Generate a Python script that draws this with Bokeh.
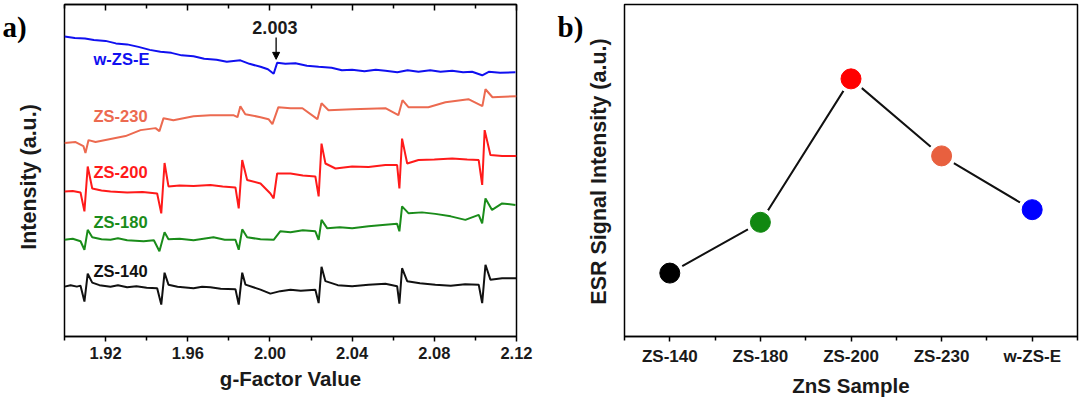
import math
from bokeh.plotting import figure
from bokeh.models import (Range1d, LinearAxis, FixedTicker, Arrow, NormalHead,
                          NumeralTickFormatter, CustomLabelingPolicy)
from bokeh.layouts import row
from bokeh.embed import file_html
from bokeh.resources import INLINE
from bokeh.core.properties import value

# ---------------- panel a) : ESR spectra (g-factor vs intensity, offset traces) -------------
g_140 = [1.900, 1.903, 1.906, 1.9078, 1.9097, 1.9113, 1.9135, 1.917, 1.9224, 1.926, 1.9305, 1.935,
         1.940, 1.9451, 1.9471, 1.9487, 1.9506, 1.955, 1.9628, 1.967, 1.971, 1.976, 1.9832, 1.9848,
         1.9865, 1.9881, 1.9954, 2.0002, 2.005, 2.010, 2.015, 2.0221, 2.0237, 2.0251, 2.027, 2.033,
         2.040, 2.048, 2.0562, 2.0619, 2.063, 2.0643, 2.0668, 2.073, 2.0805, 2.088, 2.095, 2.1016,
         2.1033, 2.1049, 2.1073, 2.113, 2.120]
i_140 = [53, 54.5, 53, 54, 38, 66, 57, 54.5, 53, 54.5, 52.5, 53.5,
         52, 51.5, 35, 67, 55, 53, 51.5, 53, 52.5, 51, 50.5, 35,
         67, 55, 50, 46, 48.5, 50, 49, 50, 36.5, 73, 58.5, 54.5,
         53.5, 55, 56, 53.5, 36, 71.5, 58.5, 56.5, 55, 54, 55.5, 55,
         36.5, 75, 60, 61.5, 61.5]

g_180 = [1.900, 1.904, 1.9078, 1.9097, 1.9113, 1.9135, 1.918, 1.9224, 1.926, 1.9305, 1.9385, 1.9435,
         1.9462, 1.9487, 1.9506, 1.956, 1.9628, 1.9725, 1.978, 1.9832, 1.9848, 1.9865, 1.9889, 1.9954,
         2.0018, 2.005, 2.010, 2.016, 2.0221, 2.0237, 2.0251, 2.0279, 2.034, 2.040, 2.048, 2.0562,
         2.0619, 2.063, 2.0643, 2.0675, 2.074, 2.0805, 2.088, 2.0951, 2.1016, 2.1033, 2.1049, 2.1081,
         2.113, 2.1195]
i_180 = [100, 101, 98.5, 90, 110, 102.5, 100.5, 100, 101.5, 99.5, 98.5, 99.5,
         88.5, 107.5, 100.5, 101, 99.5, 102.5, 100, 100, 90, 110.5, 102.5, 100.5,
         100, 108.5, 107.5, 109.5, 108.5, 100, 120, 111.5, 112.5, 111.5, 113.5, 115,
         116, 108.5, 133.5, 126.5, 127.5, 126, 123.5, 120, 125, 116.5, 141.5, 130,
         136.5, 135]

g_200 = [1.900, 1.904, 1.9078, 1.9097, 1.9113, 1.9135, 1.918, 1.9224, 1.9305, 1.938, 1.9451, 1.9471,
         1.9487, 1.9506, 1.956, 1.9628, 1.971, 1.977, 1.9832, 1.9848, 1.9865, 1.9889, 1.9954, 2.0002,
         2.0018, 2.0035, 2.010, 2.016, 2.0221, 2.0237, 2.0251, 2.027, 2.0319, 2.040, 2.048, 2.0562,
         2.0619, 2.063, 2.0643, 2.0668, 2.0723, 2.080, 2.0887, 2.096, 2.1016, 2.1033, 2.1045, 2.1073,
         2.113, 2.120]
i_200 = [148.5, 149, 147.5, 128.5, 173.5, 151.5, 149.5, 148.5, 147.5, 148, 146.5, 126.5,
         177, 153.5, 154.5, 154, 155, 153.5, 152.5, 131.5, 180, 160, 156.5, 146.5,
         141.5, 166.5, 166.5, 164.5, 163.5, 143.5, 196.5, 176.5, 171.5, 173.5, 173, 175,
         175, 151.5, 201.5, 176.5, 180, 180.5, 181.5, 180.5, 180, 155, 210, 185,
         184, 184]

g_230 = [1.900, 1.9054, 1.9092, 1.9102, 1.9117, 1.9151, 1.9224, 1.9297, 1.937, 1.9443, 1.9462, 1.9482,
         1.953, 1.9628, 1.971, 1.9822, 1.9842, 1.9856, 1.988, 1.9954, 1.9993, 2.0012, 2.0041, 2.010,
         2.0158, 2.0231, 2.0251, 2.0285, 2.0401, 2.0562, 2.0625, 2.0645, 2.0674, 2.0771, 2.0854, 2.0966,
         2.1034, 2.1049, 2.1083, 2.120]
i_230 = [197, 198, 194, 187, 200, 198, 201, 204, 210, 212, 209, 222,
         220, 224, 225, 225, 223, 234, 226, 223, 221, 216, 233, 232,
         232, 221, 237, 230, 231, 232, 225, 240, 233, 233, 238, 241,
         234, 251, 243, 244]

g_wzse = [1.900, 1.905, 1.910, 1.9143, 1.920, 1.925, 1.9305, 1.936, 1.9415, 1.9467, 1.952, 1.957,
          1.9628, 1.968, 1.974, 1.979, 1.9856, 1.990, 1.9954, 1.999, 2.0018, 2.0035, 2.0075, 2.0124,
          2.018, 2.0237, 2.030, 2.035, 2.040, 2.046, 2.0515, 2.0562, 2.062, 2.067, 2.0723, 2.078,
          2.083, 2.0887, 2.094, 2.0984, 2.1033, 2.1065, 2.112, 2.1195]
i_wzse = [304, 302.5, 302, 300.5, 299.5, 297, 296, 293.5, 290.5, 288.5, 287.5, 285,
          284, 281.5, 280.5, 278.5, 280, 276.5, 273.5, 271, 266.5, 277.5, 276.5, 277,
          274.5, 273.5, 272.5, 270, 270.5, 269, 270.5, 269.5, 268, 270, 268.5, 270,
          268.5, 269.5, 268, 268.5, 265, 268.5, 267.5, 268]

trace_names = ["ZS-140", "ZS-180", "ZS-200", "ZS-230", "w-ZS-E"]
trace_g = [g_140, g_180, g_200, g_230, g_wzse]
trace_i = [i_140, i_180, i_200, i_230, i_wzse]
trace_colors = ["#111111", "#1a8c1a", "#ff1a1a", "#ec6a50", "#1010f0"]
trace_label_y = [69, 118, 167.5, 224, 281]

g_ticks = [1.92, 1.96, 2.00, 2.04, 2.08, 2.12]
g_minor = [1.90, 1.94, 1.98, 2.02, 2.06, 2.10]
marked_g = 2.003

# ---------------- panel b) : ESR signal intensity per sample -------------
samples = ["ZS-140", "ZS-180", "ZS-200", "ZS-230", "w-ZS-E"]
esr_signal = [1.91, 3.44, 7.76, 5.44, 3.82]
sample_colors = ["#000000", "#118811", "#ff0000", "#e8603f", "#0000ff"]

FONT = "Liberation Sans"
TXT = "#1a1a1a"
H = 399
FT, FB = 4, 337  # frame top / bottom (canvas px)


def no_labels():
    return CustomLabelingPolicy(code="return new indices.constructor(indices.size, 0)")


def side_strip(width, panel_tag, tag_x, title, title_x, title_y):
    """Strip left of a panel: panel tag and rotated y-axis title (y data = canvas px from top)."""
    s = figure(width=width, height=H, x_range=Range1d(0, width), y_range=Range1d(FB, FT),
               output_backend="svg", toolbar_location=None, title=None,
               x_axis_location=None, y_axis_location=None,
               min_border_left=0, min_border_right=0, min_border_top=FT, min_border_bottom=H - FB)
    s.grid.visible = False
    s.outline_line_color = None
    s.background_fill_color = "white"
    s.border_fill_color = "white"
    s.text(x=[tag_x], y=[26.5], text=[panel_tag], text_color="black",
           text_font=value("Liberation Serif"), text_font_style="bold",
           text_font_size=value("29px"), text_align="left", text_baseline="alphabetic")
    s.text(x=[title_x], y=[title_y], text=[title], text_color=TXT, angle=math.pi / 2,
           text_font=value(FONT), text_font_style="bold",
           text_font_size=value("21.5px"), text_align="center", text_baseline="middle")
    return s


def style_common(p):
    p.grid.visible = False
    p.outline_line_color = "black"
    p.outline_line_width = 1.5
    p.background_fill_color = "white"
    p.border_fill_color = "white"


def style_xaxis(ax, label, tick_size):
    ax.axis_line_width = 1.5
    ax.major_tick_line_width = 1.5
    ax.minor_tick_line_width = 1.5
    ax.major_tick_out = 5
    ax.major_tick_in = 0
    ax.minor_tick_out = 4
    ax.minor_tick_in = 0
    ax.major_label_standoff = 5
    ax.major_label_text_font = FONT
    ax.major_label_text_font_style = "bold"
    ax.major_label_text_font_size = tick_size
    ax.major_label_text_color = TXT
    ax.axis_label = label
    ax.axis_label_text_font = FONT
    ax.axis_label_text_font_style = "bold"
    ax.axis_label_text_font_size = "20.5px"
    ax.axis_label_text_color = TXT
    ax.axis_label_standoff = 5


# ----- strip + figure a -----
fa = side_strip(62, "a)", 2, "Intensity (a.u.)", 28.5, 177)

p1 = figure(width=488, height=H, x_range=Range1d(1.90, 2.12), y_range=Range1d(3, 336),
            output_backend="svg", toolbar_location=None, y_axis_location=None, title=None,
            min_border_left=2, min_border_right=34, min_border_top=FT, min_border_bottom=H - FB)
style_common(p1)

for gs, ii, c in zip(trace_g, trace_i, trace_colors):
    p1.line(gs, ii, line_color=c, line_width=2)

p1.text(x=[1.9141] * len(trace_names), y=trace_label_y, text=trace_names,
        text_color=trace_colors, text_font=value(FONT), text_font_style="bold",
        text_font_size=value("16.5px"), text_align="left", text_baseline="middle")

p1.text(x=[marked_g - 0.0006], y=[312.5], text=[f"{marked_g:.3f}"], text_color=TXT,
        text_font=value(FONT), text_font_style="bold", text_font_size=value("18px"),
        text_align="center", text_baseline="middle")
p1.add_layout(Arrow(end=NormalHead(size=7, fill_color="black", line_color="black", line_width=1),
                    x_start=marked_g, y_start=303, x_end=marked_g, y_end=281,
                    line_color="black", line_width=1.3))

xa = p1.xaxis[0]
xa.ticker = FixedTicker(ticks=g_ticks, minor_ticks=g_minor)
xa.formatter = NumeralTickFormatter(format="0.00")
style_xaxis(xa, "g-Factor Value", "16.5px")

top = LinearAxis(ticker=FixedTicker(ticks=g_ticks, minor_ticks=g_minor),
                 major_label_policy=no_labels(),
                 major_label_text_font_size="1px", major_label_standoff=0,
                 major_tick_in=6, major_tick_out=0, minor_tick_in=4, minor_tick_out=0,
                 axis_line_width=1.5, major_tick_line_width=1.5, minor_tick_line_width=1.5)
p1.add_layout(top, "above")

# ----- strip + figure b -----
fb = side_strip(72, "b)", 7, "ESR Signal Intensity (a.u.)", 48, 171.5)

xs = list(range(len(samples)))
p2 = figure(width=458, height=H, x_range=Range1d(-0.5, 4.5), y_range=Range1d(0, 10),
            output_backend="svg", toolbar_location=None, y_axis_location=None, title=None,
            min_border_left=2, min_border_right=3, min_border_top=FT, min_border_bottom=H - FB)
style_common(p2)
p2.line(xs, esr_signal, line_color="#111111", line_width=2)
p2.scatter(xs, esr_signal, size=28, fill_color="white", line_color="white")
p2.scatter(xs, esr_signal, size=20, fill_color=sample_colors, line_color=sample_colors)

xb = p2.xaxis[0]
xb.ticker = FixedTicker(ticks=xs, minor_ticks=[k - 0.5 for k in range(len(samples) + 1)])
xb.major_label_overrides = {k: s for k, s in zip(xs, samples)}
style_xaxis(xb, "ZnS Sample", "17px")

layout = row(fa, p1, fb, p2)
open("out.html", "w").write(file_html(layout, INLINE))
